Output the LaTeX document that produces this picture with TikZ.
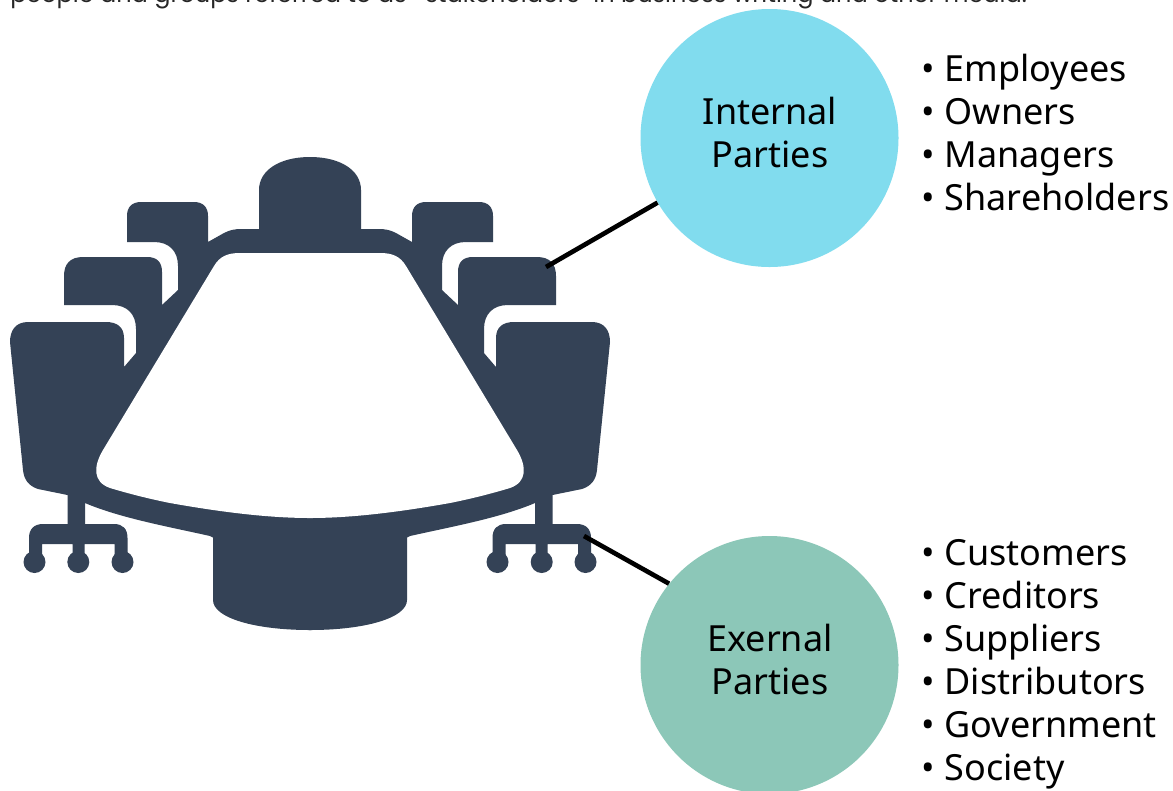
\documentclass[tikz,border=0pt]{standalone}
\usepackage{fontspec}
\setmainfont{Noto Sans}
\newfontfamily\topfont{Poppins}
\definecolor{slateC}{HTML}{344256}
\definecolor{cyanC}{HTML}{81DCEE}
\definecolor{tealC}{HTML}{8CC7B8}
\tikzset{
  party/.style={circle,inner sep=0pt,minimum size=193.5pt},
  partylabel/.style={inner sep=0pt,align=center,text=black,font=\fontsize{27}{32.25}\selectfont},
  plist/.style={inner sep=0pt,align=left,text=black,font=\fontsize{27}{32.25}\selectfont},
  link/.style={draw=black,line width=3.5pt},
  silhouette/.style={fill=slateC,draw=none}
}
\begin{document}
\begin{tikzpicture}[x=0.75pt,y=-0.75pt]
\useasboundingbox (0,0) rectangle (1173,790);
\clip (0,0) rectangle (1173,790);
\fill[white] (0,0) rectangle (1173,790);
\node[anchor=base west,inner sep=0pt,text=black!85,font=\topfont\fontsize{18}{20}\selectfont] (toptext) at (10,2) {people and groups referred to as ``stakeholders'' in business writing and other media.};
% furniture silhouette: right half, mirrored for the left
\foreach \o/\s in {0/1,620/-1}{
\begin{scope}[shift={(\o,0)},xscale=\s]
\path[silhouette]
 (309,157) -- (310,157) .. controls (340,157) and (361,170) .. (361,190) -- (361,229) -- (378,229)
 .. controls (386,229) and (390,230) .. (396,233) -- (412,242) -- (412,216)
 .. controls (412,207) and (417,202) .. (426,202) -- (479,202)
 .. controls (488,202) and (493,207) .. (493,216) -- (493,242) -- (466,242)
 .. controls (451,242) and (442,251) .. (442,266) -- (442,290) -- (458,305) -- (458,272)
 .. controls (458,262) and (463,257) .. (473,257) -- (537,257)
 .. controls (550,257) and (556,264) .. (556,276) -- (556,305) -- (508,305)
 .. controls (493,305) and (484,314) .. (484,329) -- (484,353) -- (496,367) -- (496,338)
 .. controls (496,327) and (503,322) .. (514,322) -- (592,322)
 .. controls (604,322) and (610,330) .. (610,342) -- (597,470)
 .. controls (596,480) and (591,486) .. (582,489) -- (552.5,495) -- (552.5,524) -- (577,524)
 .. controls (586,524) and (591,529) .. (591,538) -- (591,562) -- (578,562) -- (578,544) -- (547.5,544) -- (547.5,562) -- (535.5,562) -- (535.5,544) -- (505.5,544) -- (505.5,562) -- (492.5,562) -- (492.5,538)
 .. controls (492.5,529) and (497,524) .. (506,524) -- (535,524) -- (535,503)
 .. controls (500,518) and (450,527) .. (410,536) -- (407,537.5) -- (407,600)
 .. controls (407,618) and (365,630) .. (310,630) -- (309,630) -- cycle;
\fill[slateC] (497.5,562) circle (11) (541.7,562) circle (11) (585.5,562) circle (11);
\end{scope}}
% table top
\fill[white] (310,253) -- (380,253) .. controls (392,253) and (400,256) .. (406,266)
 -- (517,450) .. controls (527,467) and (527,482) .. (510,488)
 .. controls (490,494) and (470,499) .. (450,503)
 .. controls (405,511) and (355,518) .. (310,518)
 .. controls (265,518) and (215,511) .. (170,503)
 .. controls (150,499) and (130,494) .. (110,488)
 .. controls (93,482) and (93,467) .. (103,450)
 -- (214,266) .. controls (220,256) and (228,253) .. (240,253) -- cycle;
% parties
\node[party,fill=cyanC] (internal) at (769.5,138) {};
\node[party,fill=tealC] (external) at (769.5,665) {};
\node[partylabel] (internallabel) at (770,132) {Internal\\Parties};
\node[partylabel] (externallabel) at (770,659) {Exernal\\Parties};
\coordinate (chairtop) at (546,267);
\coordinate (chairbase) at (584,536);
\draw[link] (chairtop) -- (internal);
\draw[link] (chairbase) -- (external.141);
\node[plist,anchor=north west] (internallist) at (921.5,53.5) {• Employees\\• Owners\\• Managers\\• Shareholders};
\node[plist,anchor=north west] (externallist) at (921.5,539.5) {• Customers\\• Creditors\\• Suppliers\\• Distributors\\• Government\\• Society};
\end{tikzpicture}
\end{document}
